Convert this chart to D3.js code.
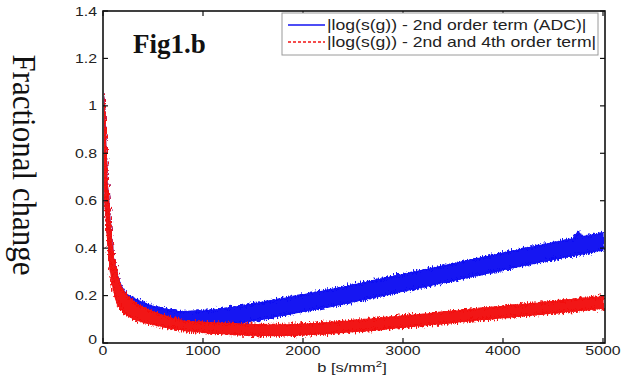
<!DOCTYPE html>
<html><head><meta charset="utf-8">
<script src="https://cdn.jsdelivr.net/npm/d3@7"></script>
<style>html,body{margin:0;padding:0;background:#fff;}svg{display:block;}</style>
</head><body>
<svg id="chart" width="628" height="383"></svg>
<script>
// ---- data ----
const bValues = [0,10,20,30,40,50,60,70,80,90,100,120,140,160,180,200,250,300,350,400,450,500,
 550,600,650,700,750,800,850,900,950,1000,1050,1100,1150,1200,1250,1300,1350,1400,1450,1500,
 1550,1600,1650,1700,1750,1800,1850,1900,1950,2000,2050,2100,2150,2200,2250,2300,2350,2400,2450,2500,
 2550,2600,2650,2700,2750,2800,2850,2900,2950,3000,3050,3100,3150,3200,3250,3300,3350,3400,3450,3500,
 3550,3600,3650,3700,3750,3800,3850,3900,3950,4000,4050,4100,4150,4200,4250,4300,4350,4400,4450,4500,
 4550,4600,4650,4700,4750,4800,4850,4900,4950,5000];
// upper / lower envelope of the noisy "2nd order term (ADC)" series (blue)
const adcHigh = [1.045,1.02,0.93,0.80,0.68,0.64,0.58,0.51,0.46,0.42,0.37,0.325,0.29,0.265,0.245,0.225,0.20,0.19,0.18,0.17,0.162,0.155,
 .150,.145,.140,.136,.133,.132,.132,.133,.134,.135, .137,.139,.141,.144,.147,.150,.153,.157,.160,.164,
 .167,.171,.175,.179,.183,.187,.191,.195,.199,.203, .207,.211,.215,.219,.223,.227,.231,.235,.239,.244,
 .248,.253,.257,.262,.266,.271,.275,.280,.284,.289, .293,.298,.302,.307,.311,.316,.320,.325,.329,.334,
 .338,.343,.347,.352,.356,.361,.365,.370,.374,.379, .383,.388,.392,.397,.401,.405,.410,.414,.418,.423,
 .427,.431,.435,.439,.470,.447,.451,.455,.459,.465];
const adcLow = [0.92,0.80,0.64,0.56,0.50,0.45,0.39,0.35,0.31,0.28,0.25,0.21,0.185,0.17,0.16,0.145,0.13,0.12,0.11,0.10,0.095,0.088,
 .080,.075,.070,.066,.063,.062,.062,.063,.064,.065, .067,.069,.071,.074,.077,.080,.083,.087,.090,.094,
 .097,.101,.105,.109,.113,.117,.121,.125,.129,.133, .137,.141,.145,.149,.153,.157,.161,.165,.169,.174,
 .178,.183,.187,.192,.196,.201,.205,.210,.214,.219, .223,.228,.232,.237,.241,.246,.250,.255,.259,.264,
 .268,.273,.277,.282,.286,.291,.295,.300,.304,.309, .313,.318,.322,.327,.331,.335,.340,.344,.348,.353,
 .357,.361,.365,.369,.373,.377,.381,.385,.389,.393];
// upper / lower envelope of the "2nd and 4th order term" series (red)
const fourthHigh = [1.045,1.02,0.93,0.80,0.68,0.64,0.58,0.51,0.46,0.42,0.37,0.325,0.29,0.26,0.24,0.22,0.195,0.175,0.16,0.15,0.14,0.132,
 .124,.117,.110,.102,.097,.093,.090,.089,.087,.087, .085,.085,.083,.083,.081,.081,.079,.079,.078,.078,
 .077,.077,.076,.077,.076,.077,.077,.078,.078,.080, .080,.082,.082,.085,.085,.088,.088,.091,.091,.095,
 .095,.098,.099,.102,.103,.106,.107,.110,.111,.114, .115,.118,.119,.122,.123,.126,.127,.131,.131,.135,
 .136,.139,.140,.143,.144,.147,.148,.151,.152,.155, .156,.159,.160,.163,.164,.167,.168,.172,.172,.176,
 .177,.180,.181,.184,.185,.188,.189,.192,.193,.197];
const fourthLow = [0.90,0.78,0.62,0.54,0.48,0.43,0.37,0.33,0.29,0.26,0.235,0.20,0.175,0.158,0.145,0.132,0.115,0.103,0.095,0.088,0.083,0.078,
 .074,.070,.065,.061,.058,.055,.052,.050,.048,.046, .044,.042,.041,.039,.038,.037,.036,.035,.034,.033,
 .033,.032,.032,.031,.032,.032,.033,.033,.034,.035, .036,.037,.038,.039,.041,.042,.044,.045,.047,.048,
 .050,.051,.053,.055,.057,.059,.061,.063,.065,.067, .069,.071,.073,.075,.077,.079,.081,.083,.085,.087,
 .089,.091,.093,.095,.097,.099,.101,.103,.105,.107, .109,.111,.113,.115,.117,.119,.121,.123,.125,.127,
 .129,.131,.133,.135,.137,.139,.141,.143,.145,.147];
const xTicks = [0,1000,2000,3000,4000,5000];
const yTicks = [0,0.2,0.4,0.6,0.8,1,1.2,1.4];
const legendLabels = ["|log(s(g)) - 2nd order term (ADC)|", "|log(s(g)) - 2nd and 4th order term|"];

// ---- layout ----
const svg = d3.select("#chart");
const L = 103, R = 605, T = 11, B = 343;
const SX = 1.27; // horizontal stretch of the original figure's text
const x = d3.scaleLinear().domain([0,5000]).range([L,R-2]);
const y = d3.scaleLinear().domain([0,1.4]).range([B,T]);
const BLUE = "#1212f2", RED = "#f21212";
const sans = "'Liberation Sans', Arial, Helvetica, sans-serif";

const defs = svg.append("defs");
defs.append("clipPath").attr("id","clip")
  .append("rect").attr("x",L+1).attr("y",T).attr("width",R-L-1).attr("height",B-T-1);
// roughening filter: gives the dense-noise texture to the band edges
const f = defs.append("filter").attr("id","rough")
  .attr("x","-5%").attr("y","-20%").attr("width","110%").attr("height","140%");
f.append("feTurbulence").attr("type","fractalNoise").attr("baseFrequency","0.8 0.25")
  .attr("numOctaves",2).attr("seed",11).attr("result","n");
f.append("feDisplacementMap").attr("in","SourceGraphic").attr("in2","n")
  .attr("scale",8).attr("xChannelSelector","B").attr("yChannelSelector","R");

const plotG = svg.append("g").attr("clip-path","url(#clip)");
function series(hi, lo, color){
  const data = bValues.map((b,i)=>({b, hi:hi[i], lo:lo[i]}));
  const area = d3.area().x(d=>x(d.b)).y0(d=>y(d.lo)).y1(d=>y(d.hi));
  const g = plotG.append("g");
  // solid core of the band
  g.append("path").datum(data).attr("d",area)
    .attr("fill",color).attr("stroke",color).attr("stroke-width",1.2)
    .attr("stroke-linejoin","round");
  // rough copy for the noisy edges
  g.append("g").attr("filter","url(#rough)")
    .append("path").datum(data).attr("d",area)
    .attr("fill",color).attr("stroke",color).attr("stroke-width",2)
    .attr("stroke-linejoin","round");
}
series(adcHigh, adcLow, BLUE);
series(fourthHigh, fourthLow, RED);

// frame
svg.append("rect").attr("x",L).attr("y",T).attr("width",R-L).attr("height",B-T)
  .attr("fill","none").attr("stroke","#111").attr("stroke-width",1.6);

// ticks (inward on all sides)
const tk = 5;
xTicks.forEach(v=>{
  svg.append("line").attr("x1",x(v)).attr("x2",x(v)).attr("y1",B).attr("y2",B-tk).attr("stroke","#111").attr("stroke-width",1.2);
  svg.append("line").attr("x1",x(v)).attr("x2",x(v)).attr("y1",T).attr("y2",T+tk).attr("stroke","#111").attr("stroke-width",1.2);
});
yTicks.forEach(v=>{
  svg.append("line").attr("x1",L).attr("x2",L+tk).attr("y1",y(v)).attr("y2",y(v)).attr("stroke","#111").attr("stroke-width",1.2);
  svg.append("line").attr("x1",R).attr("x2",R-tk).attr("y1",y(v)).attr("y2",y(v)).attr("stroke","#111").attr("stroke-width",1.2);
});

function stretchedText(px, py, str, anchor, size, color){
  const g = svg.append("g").attr("transform",`translate(${px},${py}) scale(${SX},1)`);
  return g.append("text").attr("x",0).attr("y",0).attr("text-anchor",anchor)
    .attr("font-family",sans).attr("font-size",size).attr("fill",color||"#222").text(str);
}
// tick labels
xTicks.forEach(v=> stretchedText(x(v), B+12, String(v), "middle", 12.5));
yTicks.forEach(v=> stretchedText(L-6, y(v)+ (v===0? 1 : 4.5), String(v), "end", 12.5));

// x-axis label with superscript
{
  const g = svg.append("g").attr("transform",`translate(352,372) scale(${SX},1)`);
  const t = g.append("text").attr("text-anchor","middle").attr("font-family",sans).attr("font-size",13).attr("fill","#222");
  t.append("tspan").text("b [s/mm");
  t.append("tspan").attr("font-size",9).attr("dy",-5).text("2");
  t.append("tspan").attr("dy",5).text("]");
}

// y-axis label (serif, reading downward)
svg.append("g").attr("transform","translate(13,165) rotate(90) scale(1,1.1)")
  .append("text").attr("text-anchor","middle").attr("font-family","'Liberation Serif','Times New Roman',serif")
  .attr("font-size",31).attr("fill","#111").text("Fractional change");

// figure tag
svg.append("text").attr("x",133).attr("y",53).attr("font-family","'Liberation Serif','Times New Roman',serif")
  .attr("font-weight","bold").attr("font-size",27).attr("fill","#111").text("Fig1.b");

// legend
const lg = svg.append("g");
lg.append("rect").attr("x",282).attr("y",13).attr("width",316).attr("height",42)
  .attr("fill","#fff").attr("stroke","#9a9a9a").attr("stroke-width",1);
const legendColors = [BLUE, RED];
legendLabels.forEach((lab,i)=>{
  const yy = 25 + i*17;
  lg.append("line").attr("x1",288).attr("x2",325).attr("y1",yy).attr("y2",yy)
    .attr("stroke",legendColors[i]).attr("stroke-width",1.6)
    .attr("stroke-dasharray", i===1 ? "3,2" : null);
  const g = lg.append("g").attr("transform",`translate(327,${yy+5}) scale(${SX*0.99},1)`);
  g.append("text").attr("font-family",sans).attr("font-size",14).attr("fill","#222").text(lab);
});
</script>
</body></html>
